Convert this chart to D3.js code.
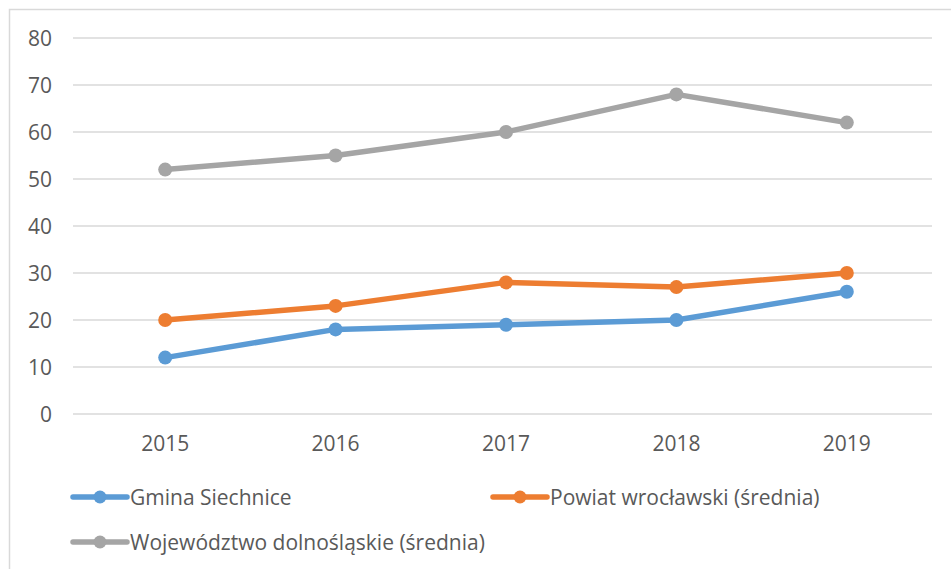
<!DOCTYPE html>
<html>
<head>
<meta charset="utf-8">
<script src="https://cdn.jsdelivr.net/npm/d3@7"></script>
<style>
body { margin: 0; background: #fff; }
text { font-family: "Open Sans", sans-serif; fill: #595959; }
</style>
</head>
<body>
<svg width="951" height="569"></svg>
<script>
var years = ["2015", "2016", "2017", "2018", "2019"];
var yTicks = [0, 10, 20, 30, 40, 50, 60, 70, 80];
var gmina = [12, 18, 19, 20, 26];
var powiat = [20, 23, 28, 27, 30];
var wojewodztwo = [52, 55, 60, 68, 62];
var seriesNames = ["Gmina Siechnice", "Powiat wrocławski (średnia)", "Województwo dolnośląskie (średnia)"];
var seriesColors = ["#5B9BD5", "#ED7D31", "#A5A5A5"];

var svg = d3.select("svg"),
  width = +svg.attr("width"),
  height = +svg.attr("height");

// chart frame
svg.append("rect")
  .attr("x", 9.5)
  .attr("y", 9.5)
  .attr("width", width + 10)
  .attr("height", height + 10)
  .style("fill", "white")
  .style("stroke", "#d9d9d9")
  .style("stroke-width", 1.5);

var x = d3.scaleBand()
  .domain(years)
  .range([80, 932]);

var y = d3.scaleLinear()
  .domain([0, 80])
  .range([414, 38]);

// gridlines
svg.append("g")
  .selectAll("line")
  .data(yTicks)
  .enter().append("line")
  .attr("x1", 73)
  .attr("x2", 932)
  .attr("y1", function(d) { return y(d); })
  .attr("y2", function(d) { return y(d); })
  .style("stroke", "#d9d9d9")
  .style("stroke-width", 1.5);

var yAxis = svg.append("g")
  .attr("transform", "translate(60,0)")
  .call(d3.axisLeft(y).tickValues(yTicks).tickSize(0).tickPadding(8));
yAxis.select(".domain").remove();
yAxis.selectAll("text").style("font-size", "21px").style("font-family", "Open Sans, sans-serif").attr("dy", "0.36em");

var xAxis = svg.append("g")
  .attr("transform", "translate(0,414)")
  .call(d3.axisBottom(x).tickSize(0).tickPadding(22));
xAxis.select(".domain").remove();
xAxis.selectAll("text").style("font-size", "21px").style("font-family", "Open Sans, sans-serif");

var allSeries = [gmina, powiat, wojewodztwo];

var line = d3.line()
  .x(function(d, i) { return x(years[i]) + x.bandwidth() / 2; })
  .y(function(d) { return y(d); });

// draw gray first so it is behind
[2, 1, 0].forEach(function(s) {
  var g = svg.append("g");
  g.append("path")
    .datum(allSeries[s])
    .attr("d", line)
    .style("fill", "none")
    .style("stroke", seriesColors[s])
    .style("stroke-width", 5.5)
    .style("stroke-linejoin", "round")
    .style("stroke-linecap", "round");
  g.selectAll("circle")
    .data(allSeries[s])
    .enter().append("circle")
    .attr("cx", function(d, i) { return x(years[i]) + x.bandwidth() / 2; })
    .attr("cy", function(d) { return y(d); })
    .attr("r", 7)
    .style("fill", seriesColors[s]);
});

// legend
var legendPos = [[73, 497], [493, 497], [73, 542]];
var legend = svg.append("g")
  .selectAll("g")
  .data(seriesNames)
  .enter().append("g")
  .attr("transform", function(d, i) { return "translate(" + legendPos[i][0] + "," + legendPos[i][1] + ")"; });

legend.append("line")
  .attr("x1", 0)
  .attr("x2", 54)
  .style("stroke", function(d, i) { return seriesColors[i]; })
  .style("stroke-width", 5.5)
  .style("stroke-linecap", "round");
legend.append("circle")
  .attr("cx", 27)
  .attr("r", 6.5)
  .style("fill", function(d, i) { return seriesColors[i]; });
legend.append("text")
  .attr("x", 57)
  .attr("dy", "0.36em")
  .style("font-size", "21px")
  .text(function(d) { return d; });
</script>
</body>
</html>
